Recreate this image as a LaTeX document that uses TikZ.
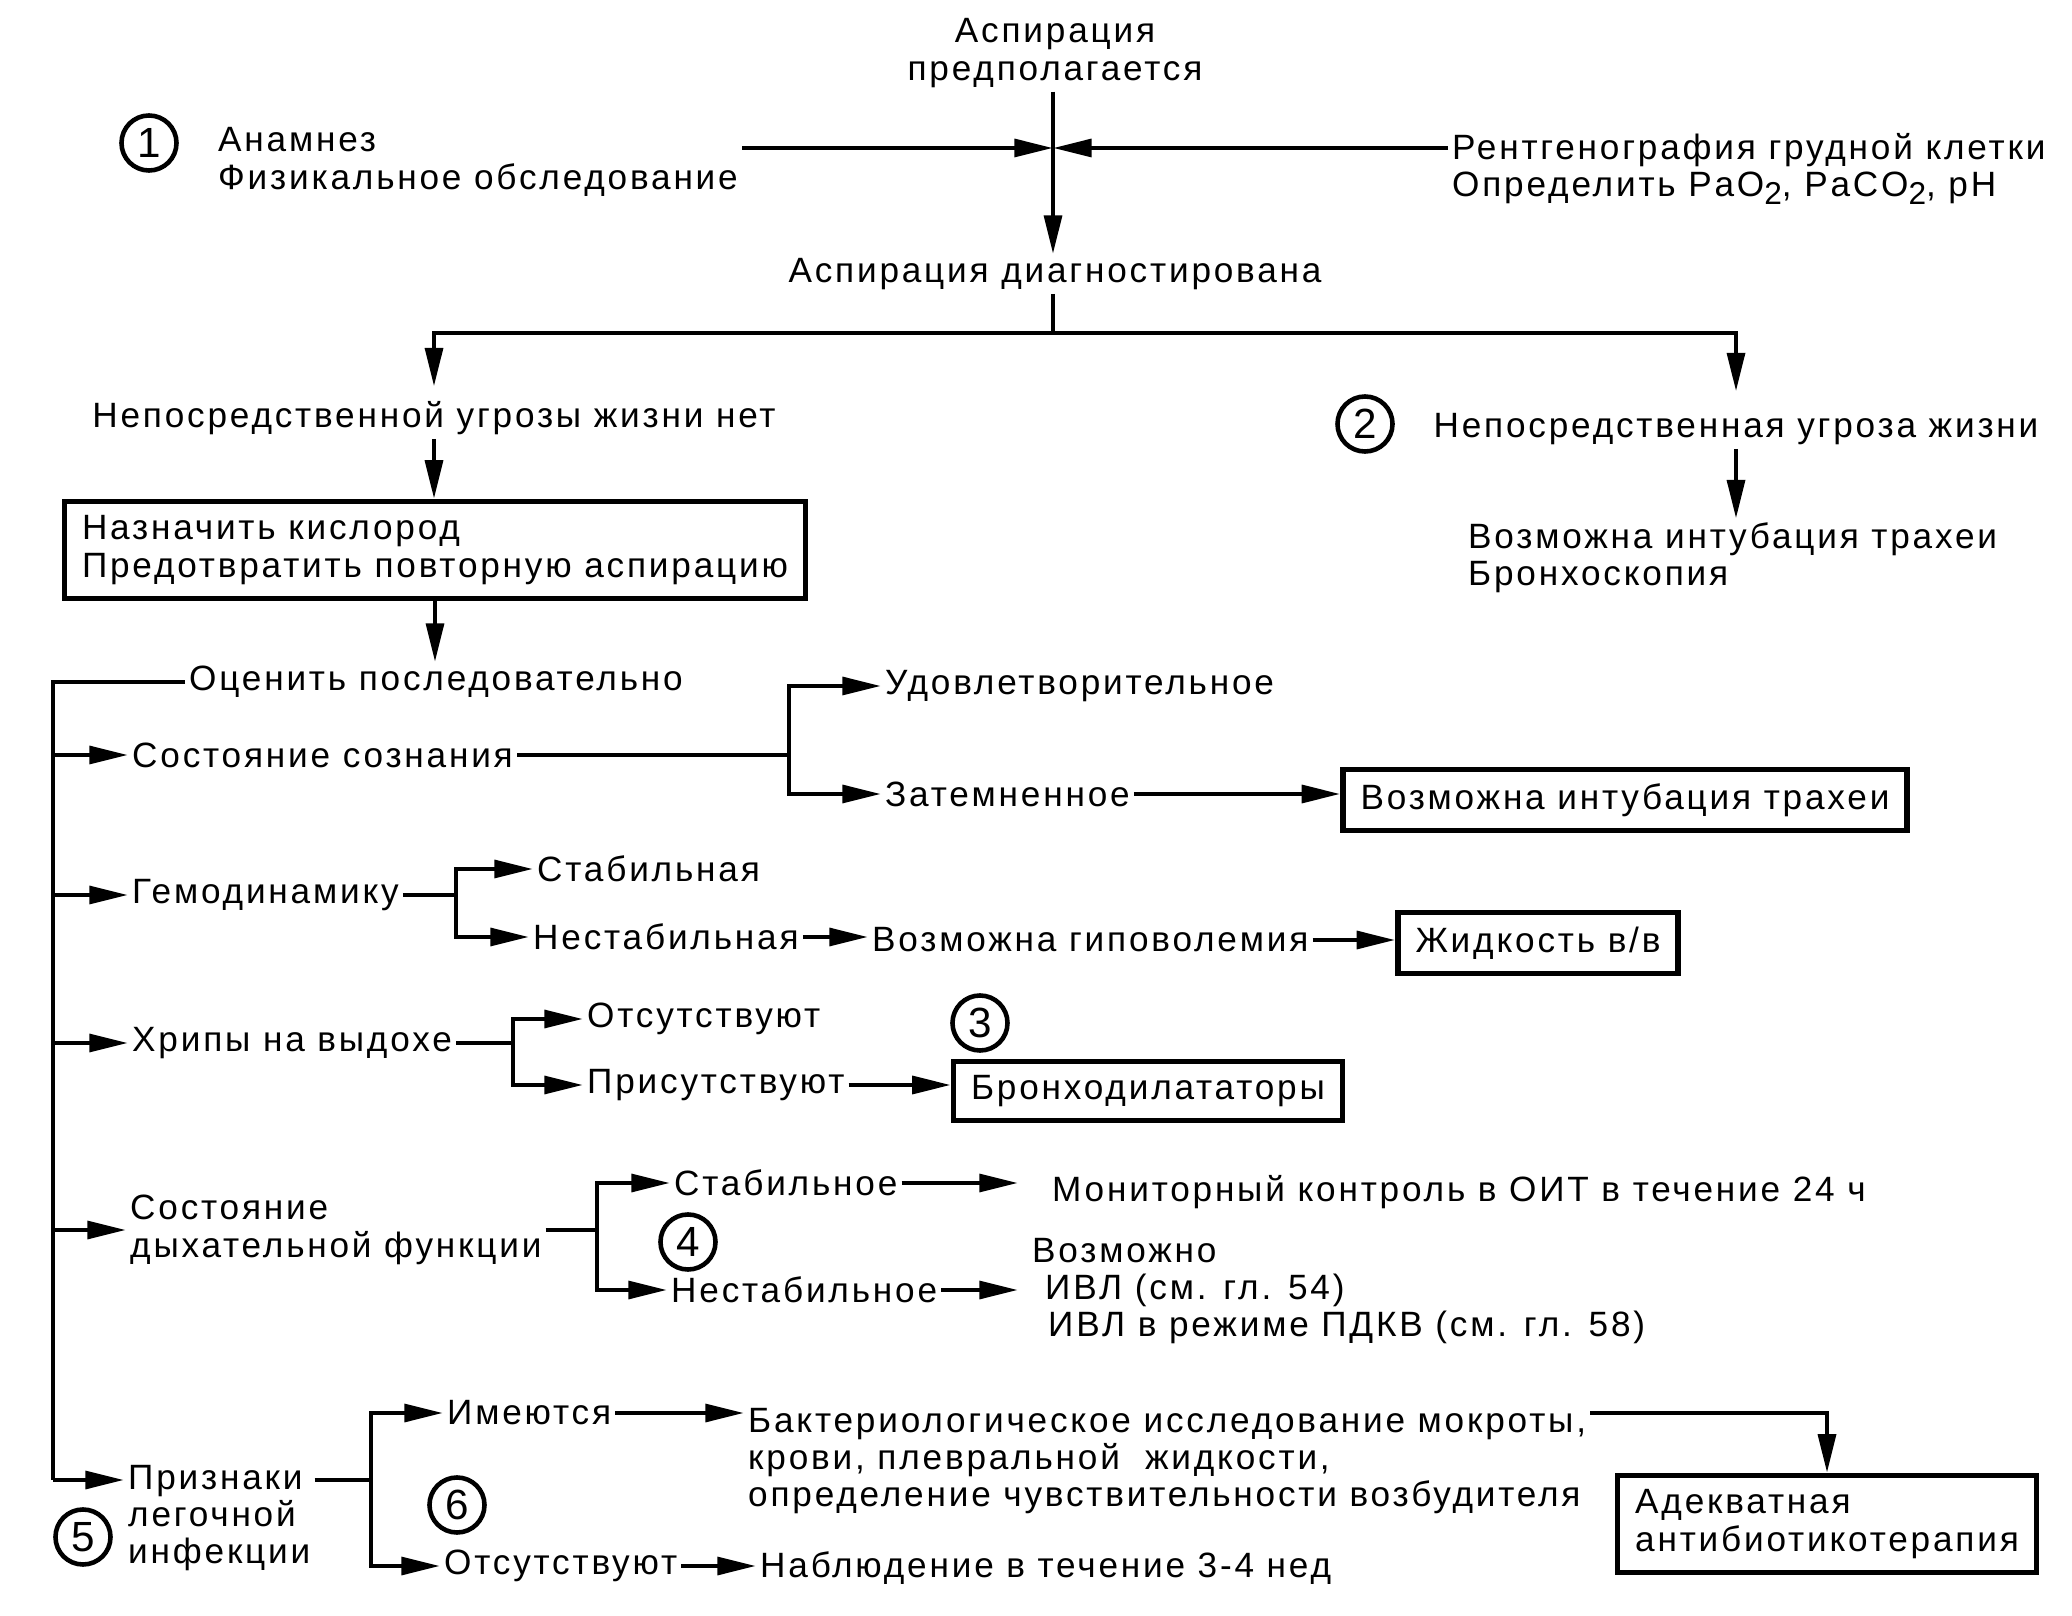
\documentclass[tikz,border=0pt]{standalone}
\usepackage{fontspec}
\setmainfont{Liberation Sans}[LetterSpace=8]
\usepackage{tikz}
\usetikzlibrary{arrows.meta,positioning,calc}
\newcommand\lowidx[1]{\raisebox{-0.45ex}{\fontsize{9pt}{9pt}\selectfont#1}}
\tikzset{
  >={Triangle[length=11pt,width=5pt]},
  txt/.style ={font=\fontsize{10pt}{10.6pt}\selectfont,inner sep=1pt,align=left},
  lt/.style  ={txt,anchor=west},
  box/.style ={txt,draw,line width=1.5pt,inner xsep=5pt,inner ysep=4pt},
  num/.style ={circle,draw,line width=1.3pt,minimum size=0.55cm,inner sep=0pt,
               font=\fontsize{12pt}{12pt}\selectfont},
  ln/.style  ={line width=1.3pt},
  ar/.style  ={->,line width=1.3pt},
}
\begin{document}
\begin{tikzpicture}[x=0.01cm,y=-0.01cm]
\useasboundingbox (0,0) rectangle (2072,1616);
\node[txt,align=center] (asp) at (1055,53) {Аспирация\\предполагается};
\node[num] (n1) at (149,143) {1};
\node[lt] (anam) at (214,162) {Анамнез\\Физикальное обследование};
\node[lt] (rent) at (1448,169) {Рентгенография грудной клетки\\Определить PaO\lowidx{2}, PaCO\lowidx{2}, pH};
\coordinate (j1) at (1053,148);
\node[txt] (diag) at (1055,274) {Аспирация диагностирована};
\coordinate (fork) at (1053,333);
\draw[ar] (asp.south -| j1) -- (diag.north -| j1);
\draw[ar] (anam.east |- j1) -- (j1);
\draw[ar] (rent.west |- j1) -- (j1);

\node[txt] (nolife) at (434,418) {Непосредственной угрозы жизни нет};
\node[num] (n2) at (1365,424) {2};
\node[txt] (life) at (1736,429) {Непосредственная угроза жизни};
\node[lt] (intub) at (1464,558) {Возможна интубация трахеи\\Бронхоскопия};
\node[box] (oxy) at (435,550) {Назначить кислород\\Предотвратить повторную аспирацию};
\node[txt] (ocen) at (436,682) {Оценить последовательно};
\draw[ln] (diag.south -| fork) -- (fork);
\draw[ar,shorten >=3pt] (fork) -| (nolife.north);
\draw[ar,shorten >=5pt] (fork) -| (life.north);
\draw[ar] (life.south) -- (life.south |- intub.north);
\draw[ar] (nolife.south) -- (nolife.south |- oxy.north);
\draw[ar] (oxy.south) -- (oxy.south |- ocen.north);

\coordinate (spine) at (53,0);
\coordinate (sp5) at (53,1480);
\node[lt] (soz) at (128,755) {Состояние сознания};
\node[lt] (hemo) at (128,895) {Гемодинамику};
\node[lt] (xrip) at (128,1043) {Хрипы на выдохе};
\node[lt] (dyx) at (126,1230) {Состояние\\дыхательной функции};
\node[lt] (prizn) at (124,1518) {Признаки\\легочной\\инфекции};
\node[num] (n5) at (83,1537) {5};
\draw[ln] (ocen.west) -| (sp5);
\foreach \n in {soz,hemo,xrip,dyx}
  \draw[ar] (spine |- \n.west) -- (\n.west);
\draw[ar] (sp5) -- (sp5 -| prizn.west);

\coordinate (b1) at (789,0);
\node[lt] (udov) at (881,686) {Удовлетворительное};
\node[lt] (zatm) at (881,794) {Затемненное};
\node[box] (intub2) at (1625,800) {Возможна интубация трахеи};
\draw[ar] (soz.east) -- (soz.east -| b1) |- (udov.west);
\draw[ar] (soz.east -| b1) |- (zatm.west);
\draw[ar] (zatm.east) -- (zatm.east -| intub2.west);

\coordinate (b2) at (456,0);
\node[lt] (stab) at (533,869) {Стабильная};
\node[lt] (nest) at (529,937) {Нестабильная};
\node[lt] (gipo) at (868,940) {Возможна гиповолемия};
\node[box] (fluid) at (1538,943) {Жидкость в/в};
\draw[ar] (hemo.east) -- (hemo.east -| b2) |- (stab.west);
\draw[ar] (hemo.east -| b2) |- (nest.west);
\draw[ar] (nest.east) -- (nest.east -| gipo.west);
\draw[ar] (gipo.east) -- (gipo.east -| fluid.west);

\coordinate (b3) at (513,0);
\node[lt] (otsu) at (583,1019) {Отсутствуют};
\node[lt] (pris) at (583,1085) {Присутствуют};
\node[box] (bronx) at (1148,1091) {Бронходилататоры};
\node[num] (n3) at (980,1023) {3};
\draw[ar] (xrip.east) -- (xrip.east -| b3) |- (otsu.west);
\draw[ar] (xrip.east -| b3) |- (pris.west);
\draw[ar] (pris.east) -- (pris.east -| bronx.west);

\coordinate (b4) at (597,0);
\node[lt] (stab2) at (670,1183) {Стабильное};
\node[lt] (nest2) at (667,1290) {Нестабильное};
\node[lt] (monit) at (1048,1192) {Мониторный контроль в ОИТ в течение 24 ч};
\node[lt] (ivl) at (1028,1291) {Возможно\\\hspace*{0.13cm}ИВЛ (см. гл. 54)\\\hspace*{0.16cm}ИВЛ в режиме ПДКВ (см. гл. 58)};
\node[num] (n4) at (688,1242) {4};
\draw[ar] (dyx.east) -- (dyx.east -| b4) |- (stab2.west);
\draw[ar] (dyx.east -| b4) |- (nest2.west);
\draw[ar,shorten >=0.3cm] (stab2.east) -- (stab2.east -| monit.west);
\draw[ar,shorten >=0.1cm] (nest2.east) -- (nest2.east -| ivl.west);

\coordinate (b5) at (371,0);
\node[lt] (imeu) at (443,1413) {Имеются};
\node[lt] (otsu2) at (440,1566) {Отсутствуют};
\node[lt] (bakt) at (744,1461) {Бактериологическое исследование мокроты,\\крови, плевральной\ \ жидкости,\\определение чувствительности возбудителя};
\node[lt] (nabl) at (756,1568) {Наблюдение в течение 3-4 нед};
\node[box] (anti) at (1827,1524) {Адекватная\\антибиотикотерапия};
\node[num] (n6) at (457,1505) {6};
\draw[ar] (sp5 -| prizn.east) -- (sp5 -| b5) |- (imeu.west);
\draw[ar] (sp5 -| b5) |- (otsu2.west);
\draw[ar] (imeu.east) -- (imeu.east -| bakt.west);
\draw[ar] (otsu2.east) -- (otsu2.east -| nabl.west);
\draw[ar] (bakt.east |- imeu) -| (anti.north);
\end{tikzpicture}
\end{document}
